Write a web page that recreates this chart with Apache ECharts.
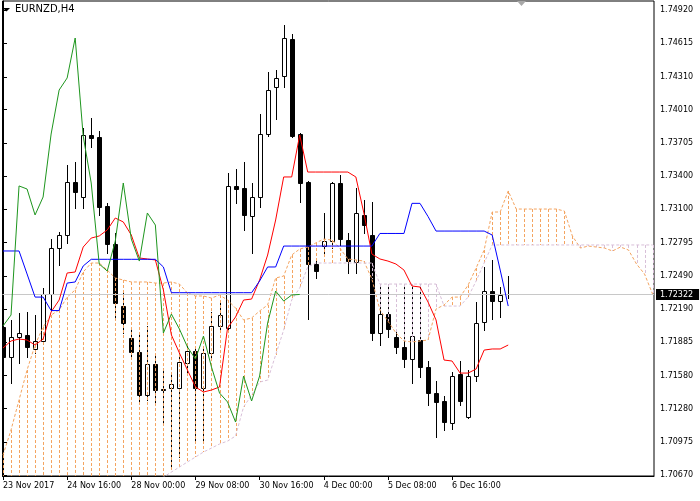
<!DOCTYPE html>
<html><head><meta charset="utf-8">
<script src="https://cdn.jsdelivr.net/npm/echarts@6/dist/echarts.min.js"></script>
<style>html,body{margin:0;padding:0;background:#fff}#c{width:700px;height:501px}</style>
</head><body><div id="c"></div>
<script>
const symbolTitle = 'EURNZD,H4';
const timeLabels = ['23 Nov 2017','24 Nov 16:00','28 Nov 00:00','29 Nov 08:00','30 Nov 16:00','4 Dec 00:00','5 Dec 08:00','6 Dec 16:00'];
const timeLabelBars = [0,8,16,24,32,40,48,56];
const priceTickLabels = ['1.70670','1.70975','1.71280','1.71580','1.71885','1.72190','1.72490','1.72795','1.73100','1.73400','1.73705','1.74010','1.74310','1.74615','1.74920'];
const lastPrice = 1.72322;

const open = [1.72025,1.71751,1.71933,1.71952,1.71824,1.71897,1.72326,1.72746,1.72865,1.73349,
1.73212,1.73778,1.73760,1.73130,1.72783,1.72216,1.71924,1.71796,1.71403,1.71687,
1.71454,1.71467,1.71467,1.71696,1.71805,1.71467,1.71787,1.72034,1.72015,1.73313,
1.73294,1.73038,1.73212,1.73787,1.74217,1.74317,1.74655,1.73787,1.73349,1.72600,
1.72764,1.72810,1.73340,1.72819,1.72618,1.73048,1.72865,1.71970,1.72143,1.71933,
1.71842,1.71732,1.71906,1.71659,1.71422,1.71349,1.71148,1.71595,1.71203,1.71577,
1.72070,1.72353,1.72262,1.72325];
const close = [1.71751,1.71933,1.71970,1.71842,1.71897,1.72326,1.72746,1.72865,1.73349,1.73258,
1.73778,1.73755,1.73121,1.72783,1.72244,1.72061,1.71796,1.71403,1.71687,1.71449,
1.71445,1.71504,1.71705,1.71805,1.71467,1.71787,1.72034,1.72134,1.73313,1.73285,
1.73048,1.73212,1.73787,1.74189,1.74299,1.74664,1.73769,1.73340,1.72600,1.72536,
1.72810,1.73340,1.72828,1.72627,1.73066,1.72956,1.71970,1.72143,1.72006,1.71842,
1.71732,1.71942,1.71659,1.71422,1.71340,1.71157,1.71577,1.71349,1.71577,1.72061,
1.72353,1.72262,1.72317,1.72322];
const low = [1.71614,1.71513,1.71696,1.71751,1.71787,1.71869,1.72180,1.72591,1.72792,1.73112,
1.73112,1.73669,1.73048,1.72700,1.72116,1.71970,1.71741,1.71330,1.71358,1.71340,
1.71148,1.70746,1.70837,1.71586,1.70974,1.70992,1.71741,1.71997,1.71979,1.73157,
1.72911,1.72700,1.73121,1.73769,1.73924,1.74217,1.73760,1.73166,1.72098,1.72472,
1.72700,1.72746,1.72774,1.72518,1.72518,1.72883,1.71906,1.71860,1.71933,1.71787,
1.71659,1.71513,1.71568,1.71312,1.71020,1.71084,1.71093,1.71312,1.71193,1.71531,
1.71997,1.72098,1.72116,1.72289];
const high = [1.72089,1.72089,1.72152,1.72162,1.72134,1.72381,1.72828,1.72892,1.73504,1.73532,
1.73842,1.73929,1.73815,1.73157,1.72883,1.72363,1.72015,1.71952,1.72034,1.71778,
1.71650,1.71604,1.71787,1.71878,1.71842,1.71833,1.72162,1.72253,1.73431,1.73468,
1.73532,1.73340,1.73970,1.74354,1.74372,1.74783,1.74701,1.73797,1.73358,1.72655,
1.73066,1.73349,1.73413,1.72883,1.73294,1.73185,1.73166,1.72417,1.72417,1.71997,
1.72417,1.72417,1.72417,1.71714,1.71531,1.71394,1.71614,1.71714,1.71632,1.72253,
1.72573,1.72637,1.72390,1.72490];

const tenkan = [1.71833,1.71897,1.71915,1.71906,1.71860,1.71915,1.72162,1.72271,1.72518,1.72527,
1.72755,1.72837,1.72856,1.72911,1.73020,1.72984,1.72865,1.72655,1.72646,1.72637,
1.72363,1.71952,1.71787,1.71632,1.71477,1.71431,1.71449,1.71477,1.72015,1.72116,
1.72271,1.72280,1.72454,1.72682,1.73002,1.73395,1.73395,1.73778,1.73440,1.73440,
1.73440,1.73440,1.73440,1.73440,1.73395,1.73066,1.72691,1.72646,1.72627,1.72600,
1.72545,1.72399,1.72390,1.72253,1.72089,1.71723,1.71714,1.71604,1.71604,1.71641,
1.71814,1.71824,1.71824,1.71860];
const kijun = [1.72719,1.72719,1.72719,1.72509,1.72298,1.72298,1.72175,1.72175,1.72426,1.72436,
1.72582,1.72643,1.72643,1.72643,1.72643,1.72643,1.72643,1.72643,1.72643,1.72643,
1.72573,1.72338,1.72338,1.72338,1.72338,1.72338,1.72338,1.72338,1.72338,1.72338,
1.72338,1.72338,1.72445,1.72573,1.72573,1.72764,1.72764,1.72764,1.72764,1.72764,
1.72764,1.72764,1.72764,1.72764,1.72764,1.72764,1.72764,1.72879,1.72879,1.72879,
1.72879,1.73154,1.73154,1.73034,1.72901,1.72901,1.72901,1.72901,1.72901,1.72901,
1.72901,1.72865,1.72545,1.72216];
const chikou = [1.72034,1.72134,1.73313,1.73285,1.73048,1.73212,1.73787,1.74189,1.74299,1.74664,
1.73769,1.73340,1.72600,1.72536,1.72810,1.73340,1.72828,1.72627,1.73066,1.72956,
1.71970,1.72143,1.72006,1.71842,1.71732,1.71942,1.71659,1.71422,1.71340,1.71157,
1.71577,1.71349,1.71577,1.72061,1.72353,1.72262,1.72317,1.72322];
const senkouA = [1.70855,1.71084,1.71358,1.71632,1.71860,1.72025,1.72134,1.72180,1.72298,1.72363,
1.72527,1.72609,1.72609,1.72545,1.72472,1.72454,1.72436,1.72436,1.72436,1.72426,
1.72426,1.72436,1.72417,1.72335,1.72308,1.72308,1.72289,1.72317,1.72271,1.72198,
1.72089,1.72107,1.72171,1.72226,1.72472,1.72490,1.72682,1.72737,1.72755,1.72792,
1.72828,1.72819,1.72746,1.72646,1.72637,1.72627,1.72463,1.72180,1.72079,1.71970,
1.71897,1.71888,1.71897,1.71906,1.72189,1.72226,1.72298,1.72298,1.72408,1.72564,
1.72728,1.73075,1.73075,1.73267,1.73102,1.73102,1.73102,1.73102,1.73102,1.73102,
1.73084,1.72856,1.72746,1.72764,1.72755,1.72746,1.72719,1.72755,1.72728,1.72600,
1.72509,1.72326];
const senkouB = [1.70600,1.70600,1.70600,1.70600,1.70600,1.70600,1.70600,1.70600,1.70600,1.70600,
1.70600,1.70600,1.70600,1.70600,1.70600,1.70600,1.70600,1.70600,1.70600,1.70627,
1.70654,1.70700,1.70746,1.70792,1.70837,1.70883,1.70919,1.70956,1.70983,1.71029,
1.71294,1.71403,1.71522,1.71540,1.71769,1.71997,1.72271,1.72381,1.72573,1.72609,
1.72609,1.72609,1.72609,1.72609,1.72609,1.72609,1.72609,1.72417,1.72417,1.72417,
1.72417,1.72417,1.72417,1.72417,1.72417,1.72216,1.72216,1.72216,1.72298,1.72445,
1.72609,1.72774,1.72774,1.72774,1.72774,1.72774,1.72774,1.72774,1.72774,1.72774,
1.72774,1.72774,1.72774,1.72774,1.72774,1.72774,1.72774,1.72774,1.72774,1.72774,
1.72774,1.72774];

const FONT = 'DejaVu Sans';
const candleData = open.map((o, i) => [i, o, close[i], low[i], high[i]]);
const cloudData = senkouA.map((a, i) => [i, a, senkouB[i]]);
const pairs = arr => arr.map((v, i) => [i, v]);

const chart = echarts.init(document.getElementById('c'), null, {renderer: 'canvas'});
chart.setOption({
  animation: false,
  backgroundColor: '#ffffff',
  textStyle: {fontFamily: FONT},
  grid: {left: 0, right: 46, top: 1, bottom: 25, show: true, borderColor: '#000', borderWidth: 1, backgroundColor: 'transparent'},
  xAxis: {
    type: 'value', min: -0.0621, max: 81.18,
    axisLine: {show: true, lineStyle: {color: '#000', width: 1}},
    axisTick: {show: true, customValues: timeLabelBars, length: 4, lineStyle: {color: '#000'}},
    axisLabel: {customValues: timeLabelBars, align: 'left', margin: 6, color: '#000', fontSize: 8, fontFamily: FONT,
      formatter: v => timeLabels[timeLabelBars.indexOf(Math.round(v))] || ''},
    splitLine: {show: false}
  },
  yAxis: {
    type: 'value', position: 'right', min: 1.70664, max: 1.75002,
    axisLine: {show: true, lineStyle: {color: '#000', width: 1}},
    axisTick: {show: true, customValues: priceTickLabels.map(Number), length: 4, lineStyle: {color: '#000'}},
    axisLabel: {customValues: priceTickLabels.map(Number), margin: 6, color: '#000', fontSize: 8, fontFamily: FONT,
      formatter: v => v.toFixed(5)},
    splitLine: {show: false}
  },
  series: [
    {
      type: 'line', name: 'price', data: [[0, lastPrice], [63, lastPrice]], symbol: 'none', z: 1,
      lineStyle: {opacity: 0},
      markLine: {
        silent: true, symbol: ['none', 'none'], animation: false, precision: 5,
        data: [{yAxis: lastPrice}],
        lineStyle: {color: '#c8c8c8', type: 'solid', width: 1},
        label: {show: true, position: 'end', formatter: lastPrice.toFixed(5), backgroundColor: '#000', color: '#fff',
          padding: [2, 6, 1, 4], distance: 2, fontSize: 8, fontFamily: FONT}
      }
    },
    {
      type: 'custom', name: 'candles', clip: true, z: 2,
      data: candleData,
      encode: {x: 0, y: [1, 2, 3, 4]},
      renderItem: (params, api) => {
        const k = params.dataIndex;
        const o = open[k], c = close[k];
        const po = api.coord([k, o]), pc = api.coord([k, c]), pl = api.coord([k, low[k]]), ph = api.coord([k, high[k]]);
        const x = Math.round(po[0]) + 0.5;
        const top = Math.round(Math.min(po[1], pc[1])) + 0.5;
        const bot = Math.round(Math.max(po[1], pc[1])) + 0.5;
        const bull = c > o;
        return {type: 'group', children: [
          {type: 'line', shape: {x1: x, y1: Math.round(ph[1]), x2: x, y2: Math.round(pl[1]) + 1}, style: {stroke: '#000', lineWidth: 1}},
          {type: 'rect', shape: {x: x - 2, y: top, width: 4, height: Math.max(bot - top, 0)}, style: {fill: bull ? '#fff' : '#000', stroke: '#000', lineWidth: 1}}
        ]};
      }
    },
    {
      type: 'custom', name: 'kumo', clip: false, z: 3,
      data: cloudData,
      encode: {x: 0, y: [1, 2]},
      renderItem: (params, api) => {
        const k = params.dataIndex;
        const a = senkouA[k], b = senkouB[k];
        const cs = params.coordSys;
        const pa = api.coord([k, a]), pb = api.coord([k, b]);
        const x = Math.round(pa[0]) + 0.5;
        if (x > cs.x + cs.width) return null;
        const yTop = Math.max(Math.min(pa[1], pb[1]), cs.y);
        const yBot = Math.min(Math.max(pa[1], pb[1]), cs.y + cs.height);
        return {type: 'line', shape: {x1: x, y1: yTop, x2: x, y2: yBot},
          style: {stroke: a >= b ? '#F4A460' : '#D8BFD8', lineWidth: 1, lineDash: [3, 2]}};
      }
    },
    {type: 'line', name: 'Senkou A', data: pairs(senkouA), symbol: 'none', z: 4, lineStyle: {color: '#F4A460', width: 1, type: [3, 2]}},
    {type: 'line', name: 'Senkou B', data: pairs(senkouB), symbol: 'none', z: 4, lineStyle: {color: '#D8BFD8', width: 1, type: [3, 2]}},
    {type: 'line', name: 'Tenkan', data: pairs(tenkan), symbol: 'none', z: 5, lineStyle: {color: '#ff0000', width: 1}},
    {type: 'line', name: 'Kijun', data: pairs(kijun), symbol: 'none', z: 5, lineStyle: {color: '#0000ff', width: 1}},
    {type: 'line', name: 'Chikou', data: pairs(chikou), symbol: 'none', z: 5, lineStyle: {color: '#1e961e', width: 1}}
  ],
  graphic: [
    {type: 'polygon', shape: {points: [[3, 8], [10, 8], [6.5, 11.5]]}, style: {fill: '#000'}},
    {type: 'text', left: 15, top: 4, style: {text: symbolTitle, font: '10px "DejaVu Sans"', fill: '#000'}},
    {type: 'polygon', shape: {points: [[517, 1], [526, 1], [521.5, 6]]}, style: {fill: '#a8a8a8'}}
  ]
});
</script></body></html>
